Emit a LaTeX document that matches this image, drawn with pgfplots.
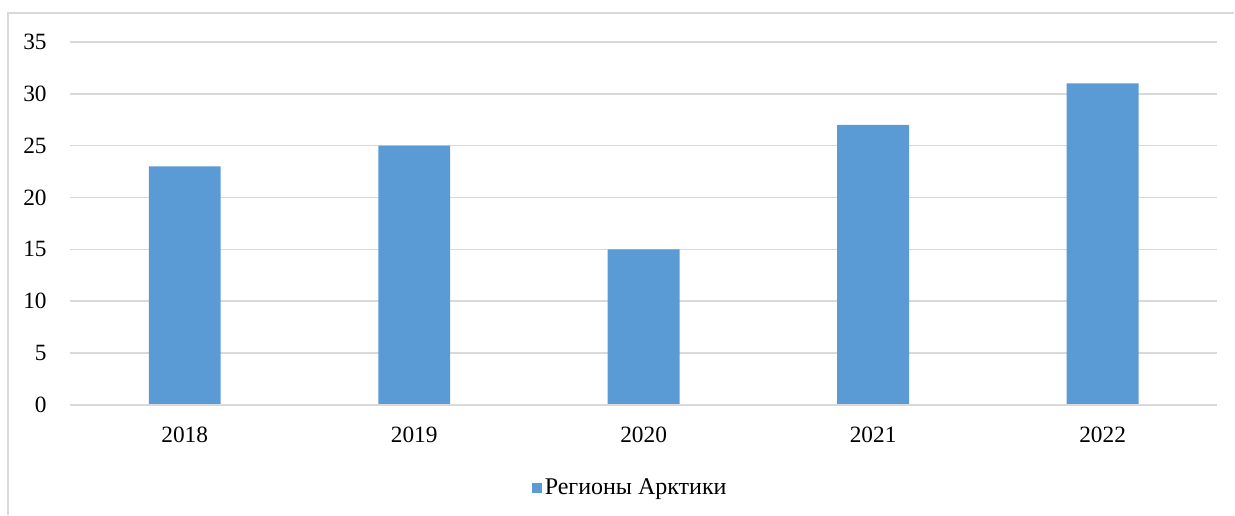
\documentclass[border=0pt]{standalone}
\usepackage{fontspec}
\setmainfont{Liberation Serif}
\usepackage{pgfplots}
\pgfplotsset{compat=1.18}
\definecolor{barblue}{HTML}{5B9BD5}
\definecolor{gridgray}{HTML}{D9D9D9}
\begin{document}
\begin{tikzpicture}
\path (-52.5pt,-82.5pt) rectangle (873.75pt,303.75pt);
\draw[gridgray, line width=1pt] (-46.5pt,-82.5pt) -- (-46.5pt,294pt) -- (873.75pt,294pt);
\begin{axis}[
  at={(0,0)}, anchor=south west,
  scale only axis, width=861pt, height=272.25pt,
  xmin=-0.5, xmax=4.5, ymin=0, ymax=35,
  ytick={0,5,...,35},
  xtick={0,1,2,3,4},
  xticklabels={2018,2019,2020,2021,2022},
  axis line style={draw=none},
  major tick length=0pt,
  ymajorgrids, grid style={gridgray, line width=1.2pt},
  /pgf/number format/assume math mode=true,
  tick label style={font=\fontsize{17.5}{20}\selectfont},
  yticklabel style={xshift=-14pt},
  xticklabel style={yshift=-13pt},
  legend style={at={(0.4887,-0.228)}, anchor=center, draw=none, fill=none,
    font=\fontsize{18}{20}\selectfont, inner sep=0pt},
  legend image code/.code={\fill[barblue] (0pt,-3.75pt) rectangle (7.5pt,3.75pt);},
  legend cell align=left,
]
\addplot[ybar, bar width=0.313, fill=barblue, draw=none, bar shift=0pt]
  coordinates {(0,23) (1,25) (2,15) (3,27) (4,31)};
\addlegendentry{Регионы Арктики}
\draw[gridgray, line width=1.2pt] (axis cs:-0.5,0) -- (axis cs:4.5,0);
\end{axis}
\end{tikzpicture}
\end{document}
